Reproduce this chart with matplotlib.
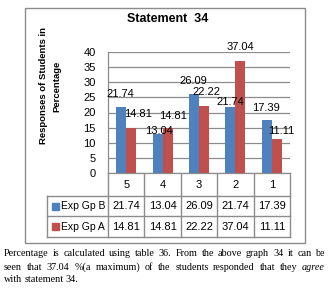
import numpy as np
import matplotlib
matplotlib.use("Agg")
import matplotlib.pyplot as plt
from matplotlib.patches import Rectangle

categories = ["5", "4", "3", "2", "1"]
series_names = ["Exp Gp B", "Exp Gp A"]
exp_gp_b = [21.74, 13.04, 26.09, 21.74, 17.39]
exp_gp_a = [14.81, 14.81, 22.22, 37.04, 11.11]
yticks = [0, 5, 10, 15, 20, 25, 30, 35, 40]
title = "Statement  34"
ylabel_lines = ["Responses of Students in", "Percentage"]
caption_lines = [
    "Percentage is calculated using table 36. From the above graph 34 it can be",
    "seen that 37.04 %(a maximum) of the students responded that they agree",
    "with statement 34.",
]

# label nudges (pixels) as placed in the original chart
label_offsets_b = [(-1, 13), (1, 3), (-1, 13), (0, 5), (-1, 12)]
label_offsets_a = [(7, 14), (5, 12), (2, 14), (0, 14), (4, 8)]

BLUE = "#4F81BD"
RED = "#C0504D"
GRID = "#8C8C8C"
W, H = 330, 290
FONT = "Liberation Sans"

fig = plt.figure(figsize=(W / 100, H / 100), dpi=100)
fig.patch.set_facecolor("white")

L, R, T, B = 108, 290, 52, 173
ax = fig.add_axes([L / W, 1 - B / H, (R - L) / W, (B - T) / H])
x = np.arange(len(categories))
bw = 0.275
bars_b = ax.bar(x - bw / 2, exp_gp_b, bw, color=BLUE, zorder=3)
bars_a = ax.bar(x + bw / 2, exp_gp_a, bw, color=RED, zorder=3)
ax.set_xlim(-0.5, len(categories) - 0.5)
ax.set_ylim(0, 40)
ax.set_yticks(yticks)
ax.set_xticks([])
ax.yaxis.grid(True, color=GRID, lw=0.9)
ax.set_axisbelow(True)
for s in ["top", "right"]:
    ax.spines[s].set_visible(False)
for s in ["left", "bottom"]:
    ax.spines[s].set_color(GRID)
    ax.spines[s].set_linewidth(0.9)
ax.tick_params(axis="y", length=0, pad=9, labelsize=8)
for lbl in ax.get_yticklabels():
    lbl.set_fontfamily(FONT)

for bars, vals, offs in ((bars_b, exp_gp_b, label_offsets_b),
                         (bars_a, exp_gp_a, label_offsets_a)):
    for bar, v, (dx, dy) in zip(bars, vals, offs):
        ax.annotate(f"{v:.2f}", (bar.get_x() + bar.get_width() / 2, v),
                    xytext=(dx, dy), textcoords="offset pixels",
                    ha="center", va="center", fontsize=8, family=FONT,
                    zorder=5, annotation_clip=False)

ov = fig.add_axes([0, 0, 1, 1], zorder=-1)
ov.set_xlim(0, W)
ov.set_ylim(H, 0)
ov.axis("off")

ov.add_patch(Rectangle((25, 8), 280, 235, fill=False, ec=GRID, lw=1))

ov.text(168, 19, title, ha="center", va="center", fontsize=9,
        fontweight="bold", family=FONT)
ov.text(43, 86, ylabel_lines[0], rotation=90, ha="center", va="center",
        fontsize=6.8, fontweight="bold", family=FONT)
ov.text(57, 86, ylabel_lines[1], rotation=90, ha="center", va="center",
        fontsize=6.8, fontweight="bold", family=FONT)

ncol = len(categories)
colw = (R - L) / ncol
rows_y = [B, 196, 216, 237]
tl = 47
lkw = dict(color=GRID, lw=1)
for yy in rows_y[1:]:
    ov.plot([tl, R], [yy, yy], **lkw)
for i in range(ncol + 1):
    xx = L + i * colw
    ov.plot([xx, xx], [B, rows_y[-1]], **lkw)
ov.plot([tl, tl], [rows_y[1], rows_y[-1]], **lkw)

for i, c in enumerate(categories):
    cx = L + (i + 0.5) * colw
    ov.text(cx, (rows_y[0] + rows_y[1]) / 2, c, ha="center", va="center",
            fontsize=8, family=FONT)
for r, (name, vals, col) in enumerate(zip(series_names, [exp_gp_b, exp_gp_a], [BLUE, RED])):
    cy = (rows_y[r + 1] + rows_y[r + 2]) / 2
    ov.add_patch(Rectangle((52, cy - 3.5), 7, 7, color=col))
    ov.text(61, cy, name, ha="left", va="center", fontsize=7.5, family=FONT)
    for i, v in enumerate(vals):
        cx = L + (i + 0.5) * colw
        ov.text(cx, cy, f"{v:.2f}", ha="center", va="center",
                fontsize=8, family=FONT)

fig.canvas.draw()
renderer = fig.canvas.get_renderer()
cap_x0, cap_x1 = 4, 325
cap_y = [253, 267, 280]
for li, (line, yy) in enumerate(zip(caption_lines, cap_y)):
    words = line.split(" ")
    texts = []
    for wd in words:
        style = "italic" if wd == "agree" else "normal"
        t = ov.text(0, yy, wd, ha="left", va="center", fontsize=7.3,
                    family="Liberation Serif", style=style)
        texts.append(t)
    widths = [t.get_window_extent(renderer).width for t in texts]
    if li < len(caption_lines) - 1:
        gap = (cap_x1 - cap_x0 - sum(widths)) / (len(words) - 1)
    else:
        gap = 2.0
    xx = cap_x0
    for t, wdt in zip(texts, widths):
        t.set_x(xx)
        xx += wdt + gap

fig.savefig("out.png", dpi=100, facecolor="white")
